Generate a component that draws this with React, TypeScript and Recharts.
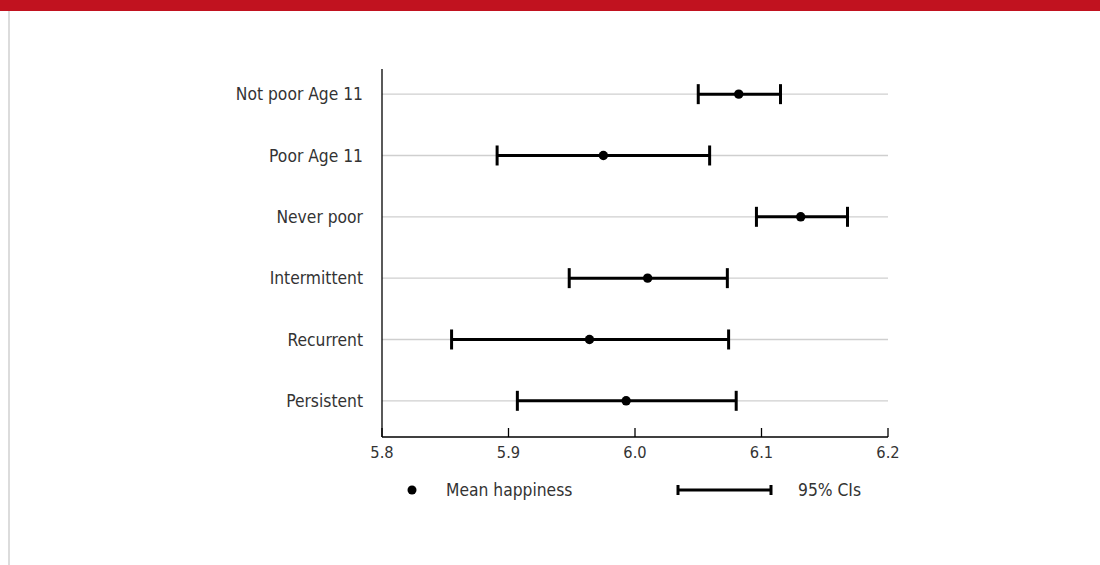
import React from 'react';
import { ScatterChart, Scatter, XAxis, YAxis, CartesianGrid, ErrorBar, Legend } from 'recharts';

const categories = ['Not poor Age 11', 'Poor Age 11', 'Never poor', 'Intermittent', 'Recurrent', 'Persistent'];
const means = [6.082, 5.975, 6.131, 6.010, 5.964, 5.993];
const lowerCI = [6.050, 5.891, 6.096, 5.948, 5.855, 5.907];
const upperCI = [6.115, 6.059, 6.168, 6.073, 6.074, 6.080];
const xTicks = [5.8, 5.9, 6.0, 6.1, 6.2];
const yTicks = [0, 1, 2, 3, 4, 5];
const legendLabels = ['Mean happiness', '95% CIs'];

const data = categories.map((c, i) => ({
  name: c,
  y: i,
  x: means[i],
  err: [means[i] - lowerCI[i], upperCI[i] - means[i]],
}));

const FONT = '"DejaVu Sans Condensed", "DejaVu Sans", sans-serif';
const TEXT = '#333';

const XTick = (props: any) => {
  const { x, y, payload } = props;
  return (
    <g>
      <line x1={x} x2={x} y1={y} y2={y - 9} stroke="#000" strokeWidth={1.3} />
      <text x={x} y={y + 21} textAnchor="middle" fill={TEXT} fontSize={16.3} fontFamily={FONT}>
        {Number(payload.value).toFixed(1)}
      </text>
    </g>
  );
};

const YTick = (props: any) => {
  const { x, y, payload } = props;
  return (
    <text x={x} y={y} dy="0.36em" textAnchor="end" fill={TEXT} fontSize={17.3} fontFamily={FONT}>
      {categories[payload.value] ?? ''}
    </text>
  );
};

const Dot = (props: any) => <circle cx={props.cx} cy={props.cy} r={4.7} fill="#000" />;

const renderLegend = () => (
  <svg width={1100} height={30} style={{ display: 'block' }}>
    <circle cx={412} cy={15} r={4.5} fill="#000" />
    <text x={446} y={15} dy="0.36em" fill={TEXT} fontSize={17.3} fontFamily={FONT}>{legendLabels[0]}</text>
    <line x1={678} x2={771} y1={15} y2={15} stroke="#000" strokeWidth={3} />
    <line x1={678} x2={678} y1={10} y2={20} stroke="#000" strokeWidth={3} />
    <line x1={771} x2={771} y1={10} y2={20} stroke="#000" strokeWidth={3} />
    <text x={798} y={15} dy="0.36em" fill={TEXT} fontSize={17.3} fontFamily={FONT}>{legendLabels[1]}</text>
  </svg>
);

export default function App() {
  return (
    <div style={{ position: 'relative', width: 1100, height: 565, background: '#fff', overflow: 'hidden' }}>
      <style>{`body{margin:0;}`}</style>
      <div style={{ position: 'absolute', left: 0, top: 0, width: 1100, height: 11, background: '#c1121f' }} />
      <div style={{ position: 'absolute', left: 8, top: 11, width: 1.5, height: 554, background: '#dcdcdc' }} />
      <div style={{ position: 'absolute', left: 0, top: 0 }}>
        <ScatterChart width={1100} height={565} margin={{ top: 69, right: 212, bottom: 98, left: 182 }}>
          <CartesianGrid
            horizontal={true}
            vertical={false}
            stroke="#cfcfcf"
            strokeWidth={1.3}
            syncWithTicks
          />
          <XAxis
            type="number"
            dataKey="x"
            domain={[5.8, 6.2]}
            ticks={xTicks}
            allowDataOverflow
            height={30}
            tickLine={false}
            tickSize={0}
            tickMargin={0}
            axisLine={{ stroke: '#000', strokeWidth: 1.3 }}
            tick={<XTick />}
            interval={0}
          />
          <YAxis
            type="number"
            dataKey="y"
            domain={[-0.41, 5.59]}
            ticks={yTicks}
            reversed
            allowDataOverflow
            width={200}
            tickLine={false}
            tickSize={0}
            tickMargin={19}
            interval={0}
            axisLine={{ stroke: '#000', strokeWidth: 1.3 }}
            tick={<YTick />}
          />
          <Legend
            layout="horizontal"
            verticalAlign="middle"
            align="center"
            content={renderLegend}
            wrapperStyle={{ position: 'absolute', top: 475, left: 0, width: 1100, height: 30 }}
          />
          <Scatter data={data} shape={<Dot />} isAnimationActive={false} legendType="none">
            <ErrorBar dataKey="err" direction="x" width={10} strokeWidth={3} stroke="#000" />
          </Scatter>
        </ScatterChart>
      </div>
    </div>
  );
}
